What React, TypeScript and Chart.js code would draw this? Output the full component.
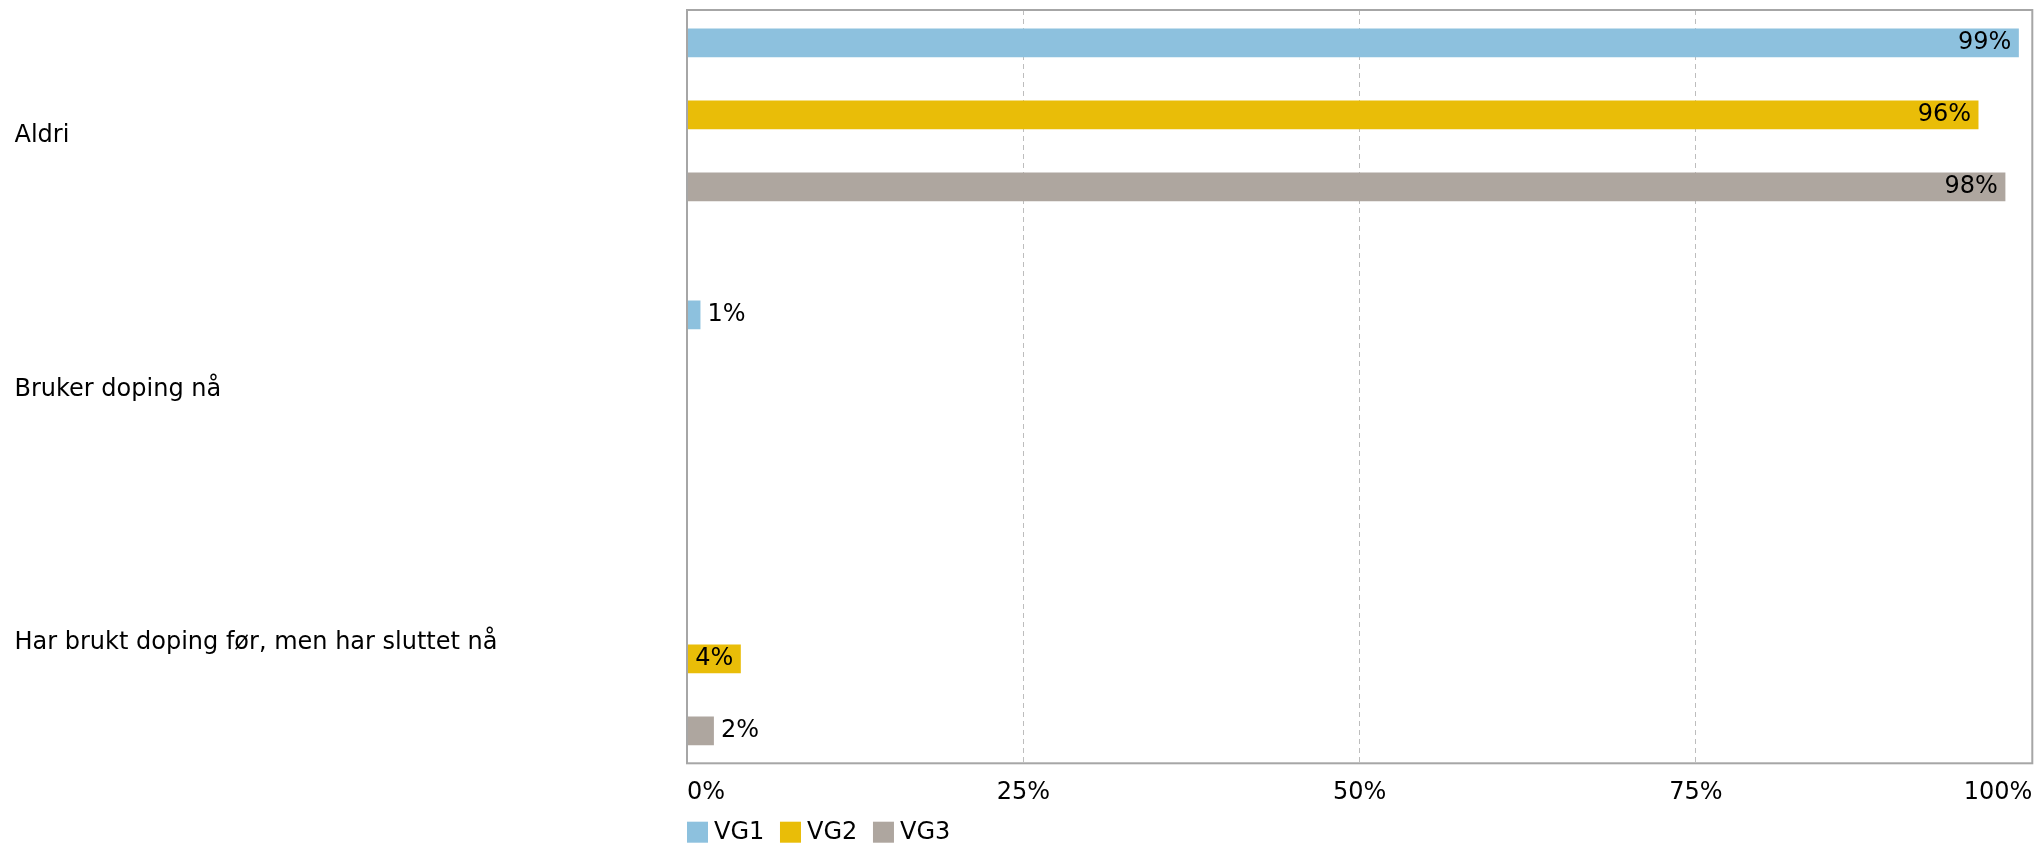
import React, { useEffect, useRef } from 'react';
import { Chart, registerables } from 'chart.js';

Chart.register(...registerables);

// ---- Data ----
const categories = ['Aldri', 'Bruker doping nå', 'Har brukt doping før, men har sluttet nå'];
const categoryIndex = [0, 1, 2];
const seriesNames = ['VG1', 'VG2', 'VG3'];
const vg1Values = [99, 1, null];
const vg2Values = [96, null, 4];
const vg3Values = [98, null, 2];
const seriesColors = ['#8dc1de', '#e9bd08', '#aea69f'];
const xTickValues = [0, 25, 50, 75, 100];

const FONT = '"DejaVu Sans", Verdana, sans-serif';
const FONT_SIZE = 24;

const framePlugin = {
  id: 'frame',
  afterDatasetsDraw(chart: any) {
    const { ctx, chartArea: a } = chart;
    ctx.save();
    ctx.strokeStyle = '#a6a6a6';
    ctx.lineWidth = 2;
    ctx.strokeRect(a.left, a.top, a.right - a.left, a.bottom - a.top);
    ctx.restore();
  },
};

const valueLabelPlugin = {
  id: 'valueLabels',
  afterDatasetsDraw(chart: any) {
    const ctx = chart.ctx;
    ctx.save();
    ctx.font = `${FONT_SIZE}px ${FONT}`;
    ctx.fillStyle = '#000';
    ctx.textBaseline = 'middle';
    chart.data.datasets.forEach((ds: any, di: number) => {
      const meta = chart.getDatasetMeta(di);
      meta.data.forEach((el: any, i: number) => {
        const raw = ds.data[i];
        const v = raw ? raw.x : null;
        if (v === null || v === undefined) return;
        const { x, y, base } = el.getProps(['x', 'y', 'base'], true);
        const text = v + '%';
        const w = ctx.measureText(text).width;
        if (x - base >= w + 12) {
          ctx.textAlign = 'right';
          ctx.fillText(text, x - 7.5, y);
        } else {
          ctx.textAlign = 'left';
          ctx.fillText(text, x + 7, y);
        }
      });
    });
    ctx.restore();
  },
};

const legendPlugin = {
  id: 'bottomLegend',
  afterDraw(chart: any) {
    const { ctx, chartArea } = chart;
    ctx.save();
    ctx.font = `${FONT_SIZE}px ${FONT}`;
    ctx.textBaseline = 'middle';
    ctx.textAlign = 'left';
    let x = chartArea.left;
    const top = chartArea.bottom + 58.4;
    chart.data.datasets.forEach((ds: any) => {
      ctx.fillStyle = ds.backgroundColor;
      ctx.fillRect(x, top, 21, 21);
      ctx.fillStyle = '#000';
      ctx.fillText(ds.label, x + 27, top + 11.5);
      x += 27 + ctx.measureText(ds.label).width + 15.7;
    });
    ctx.restore();
  },
};

export default function App() {
  const canvasRef = useRef<HTMLCanvasElement | null>(null);

  useEffect(() => {
    document.body.style.overflow = 'hidden';
    const canvas = canvasRef.current;
    if (!canvas) return;
    const seriesValues = [vg1Values, vg2Values, vg3Values];
    const datasets = seriesNames.map((name, s) => ({
      label: name,
      data: seriesValues[s].map((v, i) => ({ x: v, y: categoryIndex[i] })),
      backgroundColor: seriesColors[s],
      borderWidth: 0,
      xAxisID: 'x',
      yAxisID: 'yBars',
      categoryPercentage: 0.794,
      barPercentage: 0.4,
    }));

    const chart = new Chart(canvas, {
      type: 'bar',
      data: { datasets } as any,
      options: {
        indexAxis: 'y',
        animation: false,
        responsive: true,
        maintainAspectRatio: false,
        layout: { padding: { left: 14.5, top: 10, right: 3.7, bottom: 40.7 } },
        plugins: {
          legend: { display: false },
          tooltip: { enabled: false },
          title: { display: false },
        },
        scales: {
          x: {
            type: 'linear',
            position: 'bottom',
            min: 0,
            max: 100,
            afterBuildTicks: (s: any) => {
              s.ticks = xTickValues.map((v) => ({ value: v }));
            },
            ticks: {
              align: 'inner',
              padding: 15,
              color: '#000',
              font: { family: FONT, size: FONT_SIZE },
              callback: (v: any) => v + '%',
            },
            grid: {
              drawTicks: false,
              lineWidth: 1,
              color: (c: any) =>
                c.tick && (c.tick.value === 0 || c.tick.value === 100) ? 'rgba(0,0,0,0)' : '#bdbdbd',
            },
            border: { display: false, dash: [5, 4] },
            afterFit: (s: any) => {
              s.height = 40;
              s.paddingLeft = 0;
              s.paddingRight = 0;
            },
          },
          y: {
            type: 'linear',
            position: 'left',
            reverse: true,
            offset: false,
            min: -0.4967,
            max: 2.4749,
            grid: { display: false },
            border: { display: false },
            afterBuildTicks: (s: any) => {
              s.ticks = categoryIndex.map((v) => ({ value: v }));
            },
            ticks: {
              crossAlign: 'far',
              autoSkip: false,
              color: '#000',
              font: { family: FONT, size: FONT_SIZE },
              callback: (v: any) => categories[v],
            },
            afterFit: (s: any) => {
              s.width = 672.5;
              s.paddingTop = 0;
              s.paddingBottom = 0;
            },
          },
          yBars: {
            type: 'linear',
            axis: 'y',
            display: false,
            reverse: true,
            offset: false,
            min: -0.3853,
            max: 2.3842,
            afterBuildTicks: (s: any) => {
              s.ticks = categoryIndex.map((v) => ({ value: v }));
            },
          },
        },
      } as any,
      plugins: [framePlugin, valueLabelPlugin, legendPlugin],
    });
    return () => chart.destroy();
  }, []);

  return (
    <div style={{ position: 'absolute', left: 0, top: 0, width: 2036, height: 844 }}>
      <canvas ref={canvasRef} />
    </div>
  );
}
